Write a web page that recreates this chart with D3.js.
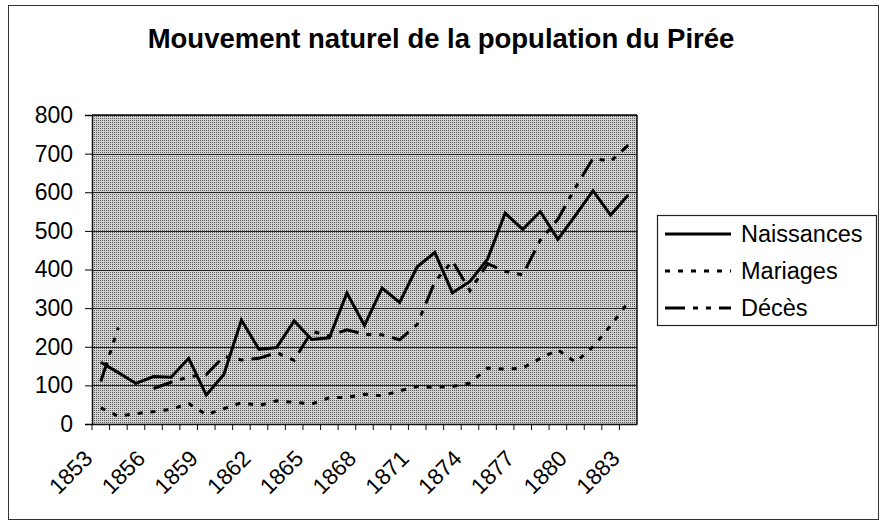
<!DOCTYPE html>
<html>
<head>
<meta charset="utf-8">
<script src="https://cdn.jsdelivr.net/npm/d3@7"></script>
<style>
  body { margin: 0; background: #fff; }
  svg { display: block; font-family: "Liberation Sans", Arial, sans-serif; }
</style>
</head>
<body>
<svg width="882" height="531"></svg>
<script>
var years = [1853, 1854, 1855, 1856, 1857, 1858, 1859, 1860, 1861, 1862,
             1863, 1864, 1865, 1866, 1867, 1868, 1869, 1870, 1871, 1872,
             1873, 1874, 1875, 1876, 1877, 1878, 1879, 1880, 1881, 1882, 1883];
var naissances = [160, 133, 105, 123, 121, 170, 75, 128, 269, 193,
                  198, 267, 219, 223, 339, 255, 352, 315, 407, 444,
                  340, 369, 427, 546, 504, 550, 478, 540, 604, 541, 593];
var mariages = [42, 20, 27, 32, 38, 53, 24, 40, 55, 48,
                60, 56, 52, 68, 69, 77, 73, 86, 97, 95,
                97, 106, 145, 142, 145, 170, 192, 160, 200, 255, 315];
var deces = [110, 250, null, 92, 108, 122, 128, 175, 166, 170,
             185, 165, 240, 228, 244, 232, 231, 218, 258, 368,
             422, 345, 415, 395, 386, 476, 530, 612, 688, 680, 722];
var yTicks = [0, 100, 200, 300, 400, 500, 600, 700, 800];
var xLabels = [1853, 1856, 1859, 1862, 1865, 1868, 1871, 1874, 1877, 1880, 1883];

var series = [
  {name: "Naissances", values: naissances, dash: null},
  {name: "Mariages", values: mariages, dash: "5,8"},
  {name: "Décès", values: deces, dash: "20,8,5,8,5,8"}
];

var svg = d3.select("svg");
var plotL = 92, plotR = 637, plotT = 115, plotB = 424;

var x = d3.scaleBand().domain(years).range([plotL, plotR]);
var y = d3.scaleLinear().domain([0, 800]).range([plotB, plotT]);

// halftone-like fill
var pat = svg.append("defs").append("pattern")
    .attr("id", "dots").attr("width", 2).attr("height", 2)
    .attr("patternUnits", "userSpaceOnUse");
pat.append("rect").attr("width", 2).attr("height", 2).attr("fill", "#d2d2d2");
pat.append("rect").attr("width", 1).attr("height", 1).attr("fill", "#5a5a5a");

// outer frame
svg.append("rect").attr("x", 8.5).attr("y", 5.5).attr("width", 870).attr("height", 514)
    .attr("fill", "none").attr("stroke", "#333").attr("stroke-width", 1);

svg.append("text").attr("x", 441).attr("y", 48).attr("text-anchor", "middle")
    .attr("font-size", 27.5).attr("font-weight", "bold").text("Mouvement naturel de la population du Pirée");

svg.append("rect").attr("x", plotL).attr("y", plotT)
    .attr("width", plotR - plotL).attr("height", plotB - plotT)
    .attr("fill", "url(#dots)");

// gridlines
svg.append("g").selectAll("line").data(yTicks.slice(1)).enter().append("line")
    .attr("x1", plotL).attr("x2", plotR)
    .attr("y1", function(d) { return Math.round(y(d)) + 0.5; })
    .attr("y2", function(d) { return Math.round(y(d)) + 0.5; })
    .attr("stroke", "#222").attr("stroke-width", 1.2);

var yAxis = svg.append("g").attr("transform", "translate(" + plotL + ",0)")
    .call(d3.axisLeft(y).tickValues(yTicks).tickSize(7).tickPadding(12));
yAxis.select(".domain").attr("stroke", "#111").attr("stroke-width", 1.5);
yAxis.selectAll("text").attr("font-size", 23).attr("fill", "#000")
    .attr("font-family", "Liberation Sans, Arial, sans-serif");

var xAxis = svg.append("g").attr("transform", "translate(0," + plotB + ")")
    .call(d3.axisBottom(x).tickValues([]).tickSizeOuter(0));
xAxis.select(".domain").attr("stroke", "#111").attr("stroke-width", 1.5);
xAxis.selectAll(".bt").data(years).enter().append("line")
    .attr("x1", function(d) { return x(d); }).attr("x2", function(d) { return x(d); })
    .attr("y1", 0).attr("y2", 6).attr("stroke", "#111").attr("stroke-width", 1);

svg.append("line").attr("x1", plotR).attr("x2", plotR).attr("y1", plotT).attr("y2", plotB)
    .attr("stroke", "#111").attr("stroke-width", 1.5);
svg.append("line").attr("x1", plotL).attr("x2", plotR).attr("y1", plotT).attr("y2", plotT)
    .attr("stroke", "#111").attr("stroke-width", 1.5);

svg.append("g").selectAll("text").data(xLabels).enter().append("text")
    .attr("transform", function(d) {
      return "translate(" + (x(d) + x.bandwidth() / 2 - 7) + "," + 460 + ") rotate(-45)";
    })
    .attr("text-anchor", "end").attr("font-size", 22.5).text(function(d) { return d; });

var line = d3.line()
    .defined(function(d) { return d != null; })
    .x(function(d, i) { return x(years[i]) + x.bandwidth() / 2; })
    .y(function(d) { return y(d); });

svg.append("g").selectAll("path").data(series).enter().append("path")
    .attr("d", function(s) { return line(s.values); })
    .attr("fill", "none").attr("stroke", "#000").attr("stroke-width", 3)
    .attr("stroke-dasharray", function(s) { return s.dash; });

// legend
var lg = svg.append("g");
lg.append("rect").attr("x", 657.5).attr("y", 215.5).attr("width", 219).attr("height", 110)
    .attr("fill", "#fff").attr("stroke", "#222").attr("stroke-width", 1.2);
var item = lg.selectAll(".item").data(series).enter().append("g")
    .attr("transform", function(d, i) { return "translate(0," + (234 + i * 37) + ")"; });
item.append("line").attr("x1", 665).attr("x2", 731).attr("y1", 0).attr("y2", 0)
    .attr("stroke", "#000").attr("stroke-width", 3)
    .attr("stroke-dasharray", function(d) { return d.dash; });
item.append("text").attr("x", 741).attr("y", 8).attr("font-size", 23.5)
    .text(function(d) { return d.name; });
</script>
</body>
</html>
